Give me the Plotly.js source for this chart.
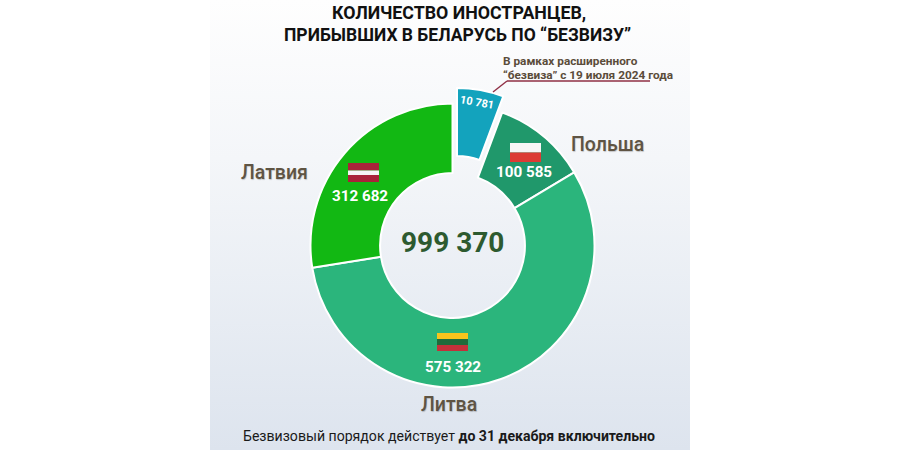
<!DOCTYPE html>
<html><head><meta charset="utf-8">
<script src="https://cdn.plot.ly/plotly-3.0.1.min.js"></script>
<style>
html,body{margin:0;padding:0;background:#fff;width:900px;height:450px;overflow:hidden}
#panel{position:absolute;left:210px;top:0;width:480px;height:450px;background:linear-gradient(#fefefe,#f4f6f9 35%,#dde4ee)}
#chart{position:absolute;left:0;top:0;width:900px;height:450px}
</style></head><body><div id="panel"></div><div id="chart"></div>
<script>
// Printed figures
const countries = ["Без визы (расширенный)", "Польша", "Литва", "Латвия"];
const counts = ["10 781", "100 585", "575 322", "312 682"];
const total = "999 370";
// Sector sizes as drawn in the picture (degrees); the picture is not to scale with the counts
const sectorDegrees = [20.5, 38.5, 202, 99];
const sectorColors = ["#13a3bd", "#20986b", "#2bb57c", "#12b813"];
const titleLines = ["КОЛИЧЕСТВО ИНОСТРАНЦЕВ,", "ПРИБЫВШИХ В БЕЛАРУСЬ ПО “БЕЗВИЗУ”"];
const noteLines = ["В рамках расширенного", "“безвиза” с 19 июля 2024 года"];
const footerPlain = "Безвизовый порядок действует ";
const footerBold = "до 31 декабря включительно";

const W = 900, H = 450;
const px = x => x / W, py = y => 1 - y / H;
const dom = (cx, cy, r) => ({x: [px(cx - r), px(cx + r)], y: [py(cy + r), py(cy - r)]});
const FF = "Roboto, sans-serif";
const CLEAR = "rgba(0,0,0,0)";

const base = {type: "pie", labels: countries, values: sectorDegrees, sort: false, direction: "clockwise",
  rotation: 0, textinfo: "none", hoverinfo: "label", showlegend: false};
const traces = [
  Object.assign({}, base, {domain: dom(452.5, 245.5, 142), hole: 0.51,
    marker: {colors: [CLEAR, sectorColors[1], sectorColors[2], sectorColors[3]],
      line: {color: [CLEAR, "#fff", "#fff", "#fff"], width: 2}}}),
  Object.assign({}, base, {domain: dom(457, 220, 132), hole: 0.485,
    marker: {colors: [sectorColors[0], CLEAR, CLEAR, CLEAR],
      line: {color: ["#fff", CLEAR, CLEAR, CLEAR], width: 2}}})
];

const ann = (x, y, text, size, color, extra) => Object.assign({
  xref: "paper", yref: "paper", x: px(x), y: py(y), text, showarrow: false,
  xanchor: "center", yanchor: "middle",
  font: {family: FF, size, color}}, extra || {});
const BROWN = "#5f5443";
const SHADOW = "0.5px 1px 1px rgba(0,0,0,0.2)";
const label = (x, y, t) => {
  const a = ann(x, y, t, 19.5, BROWN); a.font.weight = 500; a.font.shadow = SHADOW; return a;
};
const bold = t => "<b>" + t + "</b>";

const annotations = [
  ann(459, 13, bold(titleLines[0]), 17.8, "#111"),
  ann(458, 34.5, bold(titleLines[1]), 17.5, "#111"),
  ann(501, 60.5, bold(noteLines[0]), 11.8, "#5a4c3a", {xanchor: "left"}),
  ann(501, 75, bold(noteLines[1]), 11.8, "#5a4c3a", {xanchor: "left"}),
  ann(477, 102, bold(counts[0]), 11, "#fff", {textangle: 10}),
  ann(524, 172, bold(counts[1]), 15.2, "#fff"),
  ann(453, 367, bold(counts[2]), 15.2, "#fff"),
  ann(360, 196, bold(counts[3]), 15.2, "#fff"),
  ann(453, 242, bold(total), 28, "#2d5a2f"),
  label(274, 172, countries[3]),
  label(607, 145, countries[1]),
  label(449, 404, countries[2]),
  ann(449, 436, footerPlain + bold(footerBold), 14.1, "#1a1a1a")
];

const rect = (x0, y0, x1, y1, fill) => ({type: "rect", xref: "paper", yref: "paper",
  x0: px(x0), x1: px(x1), y0: py(y0), y1: py(y1), fillcolor: fill, line: {width: 0}, layer: "above"});
const line = (x0, y0, x1, y1) => ({type: "line", xref: "paper", yref: "paper",
  x0: px(x0), x1: px(x1), y0: py(y0), y1: py(y1), line: {color: "#8f2f45", width: 1.4}, layer: "above"});
const shapes = [
  rect(348, 163, 379, 170.5, "#a9233a"), rect(348, 170.5, 379, 175, "#f5f5f5"), rect(348, 175, 379, 182, "#a9233a"),
  rect(510, 143, 541, 152.5, "#f6f6f6"), rect(510, 152.5, 541, 162, "#dc3b34"),
  rect(437, 333, 468, 339, "#f7c41c"), rect(437, 339, 468, 345, "#1f6b3b"), rect(437, 345, 468, 351, "#c4313a"),
  line(493, 92, 507, 81), line(507, 81, 650, 81)
];

Plotly.newPlot("chart", traces, {
  width: W, height: H, margin: {l: 0, r: 0, t: 0, b: 0},
  paper_bgcolor: CLEAR, plot_bgcolor: CLEAR, annotations, shapes
}, {displayModeBar: false, staticPlot: true});
</script></body></html>
